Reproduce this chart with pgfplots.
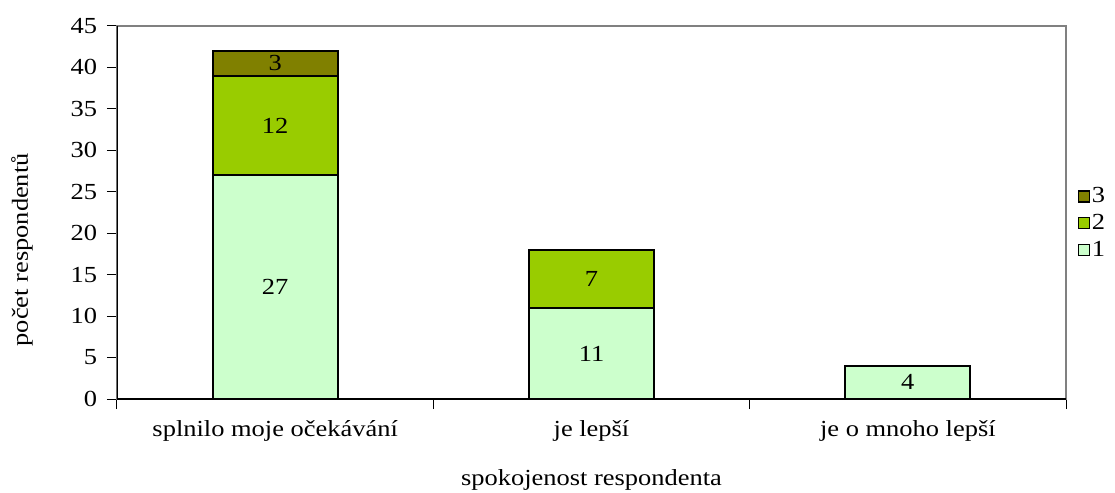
\documentclass[border=0pt]{standalone}
\usepackage{fontspec}
\setmainfont{Liberation Serif}[FakeStretch=1.15]
\usepackage{pgfplots}
\pgfplotsset{compat=1.18}

\definecolor{c1}{HTML}{CCFFCC}
\definecolor{c2}{HTML}{99CC00}
\definecolor{c3}{HTML}{808000}

\begin{document}
\fontsize{23}{27}\selectfont
\begin{tikzpicture}
\useasboundingbox (-117pt,-93pt) rectangle (998pt,399pt);
\begin{axis}[
    at={(0pt,0pt)}, anchor=south west,
    scale only axis,
    width=949pt, height=373pt,
    ybar stacked,
    bar width=125pt,
    xmin=-0.5, xmax=2.5,
    ymin=0, ymax=45,
    ytick={0,5,...,45},
    xtick={0,1,2},
    xticklabels={splnilo moje očekávání, je lepší, je o mnoho lepší},
    minor xtick={-0.5,0.5,1.5,2.5},
    major x tick style={draw=none},
    tick pos=left,
    tick align=outside,
    major tick length=10pt,
    minor tick length=10pt,
    tick style={black, line width=1pt},
    /pgf/number format/assume math mode=true,
    xticklabel style={yshift=-4pt},
    yticklabel style={xshift=-2pt},
    axis line style={gray, line width=1.2pt},
    xlabel={spokojenost respondenta},
    ylabel={počet respondentů},
    xlabel style={at={(axis description cs:0.5,-0.217)}, anchor=center},
    ylabel style={at={(axis description cs:-0.100,0.40)}, anchor=center},
    point meta=explicit symbolic,
    nodes near coords,
    every node near coord/.append style={anchor=center, black},
    legend style={at={(1.012,0.47)}, anchor=west, draw=none, fill=none,
        row sep=4pt, inner sep=0pt,
        nodes={inner sep=2pt}},
    reverse legend,
    legend image code/.code={\draw[#1, line width=1.2pt] (0pt,-5pt) rectangle (11pt,6pt);},
]
\addplot[fill=c1, draw=black, line width=2pt] coordinates {(0,27) [27] (1,11) [11] (2,4) [4]};
\addplot[fill=c2, draw=black, line width=2pt] coordinates {(0,12) [12] (1,7) [7]};
\addplot[fill=c3, draw=black, line width=2pt] coordinates {(0,3) [3]};
\legend{1,2,3}
\draw[black, line width=1.2pt] (rel axis cs:0,1) -- (rel axis cs:0,0) -- (rel axis cs:1,0);
\end{axis}
\end{tikzpicture}
\end{document}
